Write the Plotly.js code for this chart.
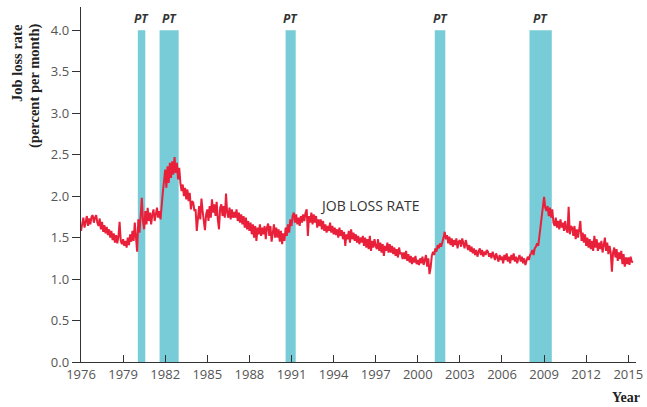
<!DOCTYPE html>
<html>
<head>
<meta charset="utf-8">
<script src="https://cdn.plot.ly/plotly-3.0.1.min.js"></script>
<style>html,body{margin:0;padding:0;background:#fff;}#chart{width:647px;height:407px;}</style>
</head>
<body>
<div id="chart"></div>
<script>
// Monthly job loss rate (percent per month)
const y1976 = [1.58,1.68,1.74,1.62,1.72,1.76,1.64,1.73,1.66,1.75,1.77,1.68];
const y1977 = [1.74,1.77,1.68,1.64,1.73,1.60,1.69,1.57,1.65,1.55,1.63,1.53];
const y1978 = [1.60,1.50,1.58,1.47,1.55,1.44,1.53,1.43,1.51,1.69,1.46,1.42];
const y1979 = [1.48,1.40,1.46,1.38,1.50,1.41,1.54,1.45,1.58,1.46,1.68,1.50];
const y1980 = [1.33,1.72,1.56,1.76,1.98,1.70,1.60,1.82,1.66,1.86,1.70,1.80];
const y1981 = [1.66,1.78,1.84,1.70,1.80,1.86,1.74,1.82,1.72,1.92,2.05,2.18];
const y1982 = [2.32,2.10,2.36,2.16,2.40,2.22,2.42,2.26,2.47,2.28,2.40,2.20];
const y1983 = [2.34,2.16,2.06,2.14,2.00,2.10,1.96,2.08,1.94,2.04,1.84,1.94];
const y1984 = [1.92,1.82,1.84,1.58,1.80,1.88,1.72,1.97,1.82,1.70,1.59,1.78];
const y1985 = [1.84,1.70,1.88,1.74,1.96,1.80,1.90,1.76,1.93,1.72,1.60,1.86];
const y1986 = [1.90,1.76,1.88,1.74,2.03,1.80,1.74,1.86,1.72,1.84,1.74,1.81];
const y1987 = [1.74,1.84,1.70,1.80,1.68,1.78,1.66,1.76,1.62,1.74,1.60,1.70];
const y1988 = [1.58,1.68,1.54,1.66,1.50,1.64,1.46,1.62,1.54,1.66,1.52,1.62];
const y1989 = [1.54,1.64,1.48,1.62,1.67,1.52,1.64,1.45,1.60,1.66,1.50,1.62];
const y1990 = [1.50,1.60,1.45,1.58,1.42,1.55,1.46,1.62,1.52,1.66,1.56,1.72];
const y1991 = [1.64,1.76,1.80,1.68,1.78,1.66,1.74,1.64,1.76,1.68,1.78,1.70];
const y1992 = [1.80,1.84,1.52,1.76,1.68,1.80,1.66,1.78,1.68,1.76,1.62,1.72];
const y1993 = [1.64,1.72,1.60,1.70,1.58,1.66,1.56,1.64,1.58,1.68,1.56,1.64];
const y1994 = [1.54,1.62,1.53,1.60,1.50,1.62,1.52,1.59,1.48,1.57,1.40,1.54];
const y1995 = [1.48,1.58,1.44,1.60,1.48,1.56,1.46,1.54,1.44,1.52,1.42,1.50];
const y1996 = [1.44,1.52,1.40,1.50,1.38,1.48,1.36,1.52,1.34,1.46,1.38,1.48];
const y1997 = [1.40,1.36,1.48,1.34,1.44,1.32,1.42,1.28,1.40,1.34,1.44,1.32];
const y1998 = [1.42,1.32,1.40,1.30,1.38,1.28,1.36,1.26,1.38,1.30,1.32,1.24];
const y1999 = [1.32,1.24,1.34,1.22,1.30,1.20,1.28,1.18,1.26,1.20,1.28,1.18];
const y2000 = [1.23,1.17,1.25,1.19,1.27,1.17,1.23,1.29,1.15,1.25,1.06,1.14];
const y2001 = [1.28,1.33,1.29,1.37,1.33,1.41,1.37,1.43,1.39,1.47,1.50,1.57];
const y2002 = [1.48,1.53,1.43,1.51,1.41,1.49,1.39,1.47,1.41,1.49,1.37,1.45];
const y2003 = [1.47,1.39,1.49,1.43,1.37,1.47,1.41,1.35,1.41,1.33,1.39,1.31];
const y2004 = [1.37,1.29,1.35,1.27,1.33,1.37,1.29,1.35,1.27,1.33,1.29,1.35];
const y2005 = [1.33,1.27,1.31,1.25,1.33,1.27,1.23,1.31,1.25,1.21,1.29,1.23];
const y2006 = [1.27,1.19,1.29,1.23,1.31,1.21,1.27,1.19,1.29,1.23,1.31,1.21];
const y2007 = [1.27,1.19,1.25,1.29,1.21,1.27,1.19,1.25,1.17,1.23,1.27,1.23];
const y2008 = [1.29,1.31,1.35,1.29,1.37,1.39,1.43,1.40,1.52,1.58,1.72,1.84];
const y2009 = [1.99,1.86,1.82,1.88,1.76,1.86,1.74,1.84,1.68,1.64,1.74,1.62];
const y2010 = [1.70,1.60,1.72,1.62,1.68,1.58,1.70,1.60,1.56,1.87,1.54,1.64];
const y2011 = [1.62,1.52,1.64,1.48,1.60,1.50,1.58,1.70,1.46,1.56,1.44,1.54];
const y2012 = [1.40,1.50,1.38,1.48,1.36,1.46,1.34,1.52,1.38,1.48,1.34,1.44];
const y2013 = [1.36,1.46,1.32,1.42,1.50,1.34,1.44,1.30,1.40,1.32,1.09,1.32];
const y2014 = [1.38,1.26,1.36,1.22,1.32,1.24,1.34,1.18,1.30,1.15,1.26,1.18];
const y2015 = [1.26,1.17,1.27,1.21,1.20];

const years = [y1976,y1977,y1978,y1979,y1980,y1981,y1982,y1983,y1984,y1985,y1986,y1987,y1988,y1989,
  y1990,y1991,y1992,y1993,y1994,y1995,y1996,y1997,y1998,y1999,y2000,y2001,y2002,y2003,y2004,y2005,
  y2006,y2007,y2008,y2009,y2010,y2011,y2012,y2013,y2014,y2015];
const firstYear = 1976;

// Recession (peak-to-trough) periods, start and end in decimal years
const recessionStart = [1980.05, 1981.60, 1990.58, 2001.21, 2007.96];
const recessionEnd   = [1980.58, 1982.96, 1991.30, 2001.96, 2009.55];
const recessionLabel = ['PT','PT','PT','PT','PT'];

const tickYears = [1976,1979,1982,1985,1988,1991,1994,1997,2000,2003,2006,2009,2012,2015];
const yTicks = [0,0.5,1.0,1.5,2.0,2.5,3.0,3.5,4.0];

const xs = [], ys = [];
years.forEach((arr, yi) => arr.forEach((v, m) => { xs.push(firstYear + yi + m/12); ys.push(v); }));

const shapes = recessionStart.map((s, i) => ({
  type: 'rect', xref: 'x', yref: 'y', x0: s, x1: recessionEnd[i], y0: 0, y1: 4.0,
  fillcolor: '#78ccd7', line: {width: 0}, layer: 'below'
}));

const L = 81, R = 11, T = 7, B = 45, W = 647, H = 407;
const px = x => (x - L) / (W - L - R);
const py = y => (H - B - y) / (H - T - B);

const annotations = recessionStart.map((s, i) => ({
  x: (s + recessionEnd[i]) / 2, y: 4.14, xref: 'x', yref: 'y', text: '<b><i>' + recessionLabel[i] + '</i></b>',
  showarrow: false, font: {family: 'Open Sans', size: 12, color: '#333'}
}));
annotations.push({x: 1996.6, y: 1.89, xref: 'x', yref: 'y', text: 'JOB LOSS RATE', showarrow: false,
  font: {family: 'Open Sans', size: 14, color: '#333'}});
annotations.push({x: px(17), y: py(22), xref: 'paper', yref: 'paper', xanchor: 'center', yanchor: 'top',
  text: '<b>Job loss rate</b>', textangle: -90,
  showarrow: false, font: {family: 'Liberation Serif', size: 14.5, color: '#222'}});
annotations.push({x: px(34), y: py(22), xref: 'paper', yref: 'paper', xanchor: 'center', yanchor: 'top',
  text: '<b>(percent per month)</b>', textangle: -90,
  showarrow: false, font: {family: 'Liberation Serif', size: 14.5, color: '#222'}});
annotations.push({x: px(626), y: py(397), xref: 'paper', yref: 'paper', xanchor: 'center', yanchor: 'middle',
  text: '<b>Year</b>', showarrow: false, font: {family: 'Liberation Serif', size: 14, color: '#222'}});

const trace = {x: xs, y: ys, type: 'scatter', mode: 'lines',
  line: {color: '#e8203a', width: 2}, hoverinfo: 'skip'};

const layout = {
  width: W, height: H,
  margin: {l: L, r: R, t: T, b: B},
  paper_bgcolor: '#fff', plot_bgcolor: '#fff',
  showlegend: false,
  xaxis: {range: [1976, 2015.55], tickvals: tickYears, ticktext: tickYears.map(String),
    showgrid: false, zeroline: false, showline: true, linecolor: '#333', linewidth: 1.3,
    ticks: 'inside', ticklen: 7, tickcolor: '#333', tickwidth: 1,
    tickfont: {family: 'Open Sans', size: 13, color: '#555'}},
  yaxis: {range: [0, 4.28], tickvals: yTicks, ticktext: yTicks.map(v => v.toFixed(1)),
    showgrid: false, zeroline: false, showline: true, linecolor: '#333', linewidth: 1.3,
    ticks: 'outside', ticklen: 8, tickcolor: '#333', tickwidth: 1,
    tickfont: {family: 'Open Sans', size: 13, color: '#555'}},
  shapes: shapes,
  annotations: annotations
};

Plotly.newPlot('chart', [trace], layout, {staticPlot: true, displayModeBar: false});
</script>
</body>
</html>
